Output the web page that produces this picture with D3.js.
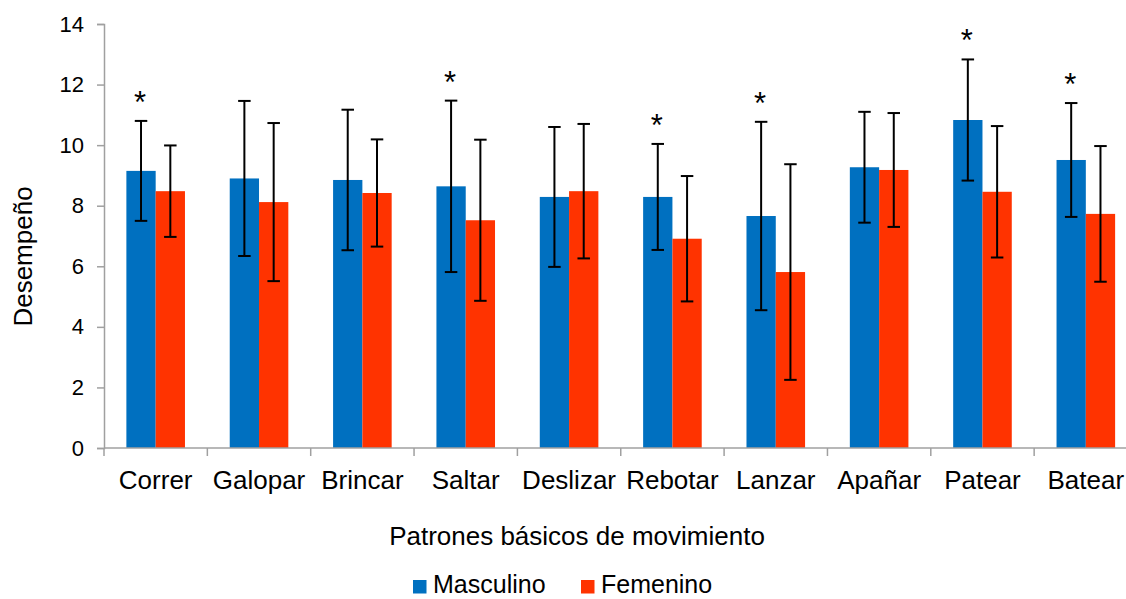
<!DOCTYPE html>
<html>
<head>
<meta charset="utf-8">
<script src="https://cdn.jsdelivr.net/npm/d3@7"></script>
<style>
  html, body { margin: 0; padding: 0; background: #fff; }
  svg { display: block; font-family: "Liberation Sans", Arial, sans-serif; }
</style>
</head>
<body>
<svg id="chart" width="1126" height="599"></svg>
<script>
// Patrones básicos de movimiento: media y desviación estándar por sexo
const categories = ["Correr", "Galopar", "Brincar", "Saltar", "Deslizar", "Rebotar", "Lanzar", "Apañar", "Patear", "Batear"];
const masculinoMean = [9.15, 8.90, 8.85, 8.64, 8.29, 8.29, 7.66, 9.27, 10.83, 9.51];
const masculinoSD   = [1.65, 2.56, 2.32, 2.83, 2.31, 1.75, 3.11, 1.83, 2.00, 1.88];
const femeninoMean  = [8.48, 8.12, 8.42, 7.52, 8.48, 6.91, 5.81, 9.18, 8.46, 7.73];
const femeninoSD    = [1.51, 2.61, 1.77, 2.66, 2.22, 2.07, 3.56, 1.88, 2.17, 2.24];
// diferencia significativa entre sexos
const significant   = [true, false, false, true, false, true, true, false, true, true];
const seriesNames   = ["Masculino", "Femenino"];
const seriesColors  = ["#0070C0", "#FF3300"];
const yTicks        = [0, 2, 4, 6, 8, 10, 12, 14];

const svg = d3.select("#chart");
const plotLeft = 104, plotTop = 24, plotBottom = 448;
const step = 103.35;
const plotRight = plotLeft + step * categories.length;

const x = d3.scaleBand().domain(categories).range([plotLeft, plotRight]).padding(0);
const xs = d3.scaleBand().domain(seriesNames).range([0, x.bandwidth()])
  .paddingInner(0).paddingOuter(0.764);
const y = d3.scaleLinear().domain([0, 14]).range([plotBottom, plotTop]);

const axisColor = "#a0a0a0";

// Eje Y
const yAxis = svg.append("g").attr("transform", `translate(${plotLeft},0)`)
  .call(d3.axisLeft(y).tickValues(yTicks).tickSize(7).tickPadding(13).tickFormat(d3.format("d")));
yAxis.select(".domain").attr("stroke", axisColor).attr("stroke-width", 1.5);
yAxis.selectAll(".tick line").attr("stroke", axisColor).attr("stroke-width", 1.5);
yAxis.selectAll(".tick text").attr("font-size", 22).attr("fill", "#000")
  .attr("font-family", "Liberation Sans, Arial, sans-serif");

// Barras
const rows = categories.map((c, i) => ({
  cat: c,
  vals: [
    { s: seriesNames[0], m: masculinoMean[i], sd: masculinoSD[i], color: seriesColors[0] },
    { s: seriesNames[1], m: femeninoMean[i], sd: femeninoSD[i], color: seriesColors[1] }
  ],
  sig: significant[i]
}));

const groups = svg.append("g").selectAll("g").data(rows).join("g")
  .attr("transform", d => `translate(${x(d.cat)},0)`);

groups.selectAll("rect").data(d => d.vals).join("rect")
  .attr("x", d => xs(d.s))
  .attr("y", d => y(d.m))
  .attr("width", xs.bandwidth())
  .attr("height", d => y(0) - y(d.m))
  .attr("fill", d => d.color);

// Barras de error
const capW = 12.5;
const eb = groups.selectAll("g.err").data(d => d.vals).join("g").attr("class", "err")
  .attr("stroke", "#000").attr("stroke-width", 2);
eb.append("line")
  .attr("x1", d => xs(d.s) + xs.bandwidth() / 2).attr("x2", d => xs(d.s) + xs.bandwidth() / 2)
  .attr("y1", d => y(d.m + d.sd)).attr("y2", d => y(d.m - d.sd));
eb.append("line")
  .attr("x1", d => xs(d.s) + xs.bandwidth() / 2 - capW / 2).attr("x2", d => xs(d.s) + xs.bandwidth() / 2 + capW / 2)
  .attr("y1", d => y(d.m + d.sd)).attr("y2", d => y(d.m + d.sd));
eb.append("line")
  .attr("x1", d => xs(d.s) + xs.bandwidth() / 2 - capW / 2).attr("x2", d => xs(d.s) + xs.bandwidth() / 2 + capW / 2)
  .attr("y1", d => y(d.m - d.sd)).attr("y2", d => y(d.m - d.sd));

// Asteriscos de significancia
groups.filter(d => d.sig).append("text")
  .attr("x", xs(seriesNames[0]) + xs.bandwidth() / 2 - 1)
  .attr("y", d => y(d.vals[0].m + d.vals[0].sd) - 8)
  .attr("text-anchor", "middle")
  .attr("font-size", 31)
  .text("*");

// Eje X
const xAxis = svg.append("g").attr("transform", `translate(0,${plotBottom})`);
xAxis.append("line").attr("x1", plotLeft).attr("x2", plotRight).attr("y1", 0).attr("y2", 0)
  .attr("stroke", axisColor).attr("stroke-width", 1.5);
xAxis.selectAll("line.tk").data(categories.concat(["__end"])).join("line").attr("class", "tk")
  .attr("x1", d => d === "__end" ? plotRight : x(d)).attr("x2", d => d === "__end" ? plotRight : x(d))
  .attr("y1", 0).attr("y2", 8)
  .attr("stroke", axisColor).attr("stroke-width", 1.5);
xAxis.selectAll("text").data(categories).join("text")
  .attr("x", d => x(d) + x.bandwidth() / 2)
  .attr("y", 41)
  .attr("text-anchor", "middle")
  .attr("font-size", 26)
  .text(d => d);

// Títulos de los ejes
svg.append("text")
  .attr("x", 577).attr("y", 545)
  .attr("text-anchor", "middle").attr("font-size", 26)
  .text("Patrones básicos de movimiento");
svg.append("text")
  .attr("transform", "translate(32,256.5) rotate(-90)")
  .attr("text-anchor", "middle").attr("font-size", 26)
  .text("Desempeño");

// Leyenda
const legendX = [413, 581];
const legend = svg.append("g").selectAll("g").data(seriesNames).join("g")
  .attr("transform", (d, i) => `translate(${legendX[i]},580)`);
legend.append("rect").attr("width", 13.5).attr("height", 13.5)
  .attr("fill", (d, i) => seriesColors[i]);
legend.append("text").attr("x", 20).attr("y", 13).attr("font-size", 25).text(d => d);
</script>
</body>
</html>
